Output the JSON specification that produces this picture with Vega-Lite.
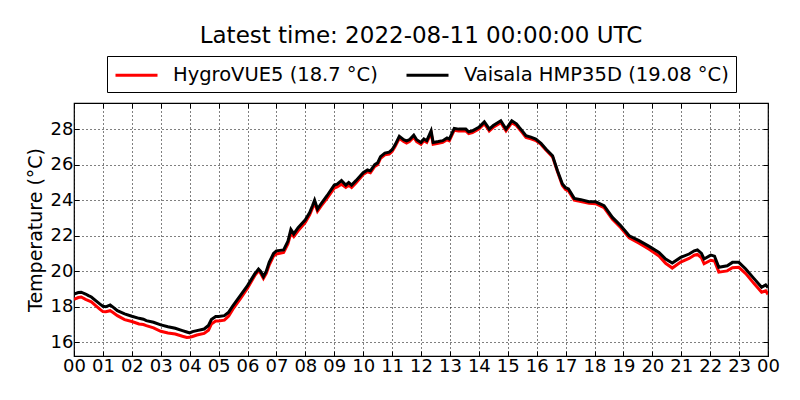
{
  "$schema": "https://vega.github.io/schema/vega-lite/v6.json",
  "width": 694,
  "height": 253,
  "padding": {"top": 24, "left": 26, "right": 16, "bottom": 5},
  "background": "white",
  "title": {
    "text": "Latest time: 2022-08-11 00:00:00 UTC",
    "font": "DejaVu Sans",
    "fontSize": 23,
    "fontWeight": "normal",
    "color": "black",
    "anchor": "middle",
    "frame": "group",
    "offset": 8
  },
  "config": {
    "view": {"stroke": "black", "strokeWidth": 1.2},
    "axis": {
      "labelFont": "DejaVu Sans",
      "labelFontSize": 18,
      "labelColor": "black",
      "titleFont": "DejaVu Sans",
      "titleFontSize": 19,
      "titleFontWeight": "normal",
      "titleColor": "black",
      "domain": false,
      "tickColor": "black",
      "tickSize": -5,
      "labelFlush": false,
      "gridColor": "black",
      "gridDash": [1, 3],
      "gridOpacity": 1,
      "gridWidth": 1
    }
  },
  "datasets": {
    "temps": [
      {"h": 0.0, "hygro": 18.42, "vaisala": 18.72},
      {"h": 0.15, "hygro": 18.52, "vaisala": 18.8},
      {"h": 0.25, "hygro": 18.55, "vaisala": 18.82},
      {"h": 0.4, "hygro": 18.42, "vaisala": 18.72},
      {"h": 0.5, "hygro": 18.35, "vaisala": 18.63},
      {"h": 0.6, "hygro": 18.28, "vaisala": 18.55},
      {"h": 0.75, "hygro": 18.07, "vaisala": 18.35},
      {"h": 0.9, "hygro": 17.85, "vaisala": 18.15},
      {"h": 1.0, "hygro": 17.73, "vaisala": 18.03},
      {"h": 1.1, "hygro": 17.72, "vaisala": 18.0},
      {"h": 1.25, "hygro": 17.78, "vaisala": 18.1},
      {"h": 1.35, "hygro": 17.68, "vaisala": 17.98},
      {"h": 1.5, "hygro": 17.5, "vaisala": 17.78},
      {"h": 1.75, "hygro": 17.28, "vaisala": 17.6},
      {"h": 2.0, "hygro": 17.17, "vaisala": 17.47},
      {"h": 2.25, "hygro": 17.03, "vaisala": 17.35},
      {"h": 2.4, "hygro": 17.0, "vaisala": 17.3},
      {"h": 2.5, "hygro": 16.94, "vaisala": 17.22},
      {"h": 2.75, "hygro": 16.81, "vaisala": 17.13},
      {"h": 3.0, "hygro": 16.62, "vaisala": 16.98},
      {"h": 3.25, "hygro": 16.53, "vaisala": 16.88},
      {"h": 3.5, "hygro": 16.47, "vaisala": 16.79},
      {"h": 3.75, "hygro": 16.34, "vaisala": 16.66},
      {"h": 3.9, "hygro": 16.27, "vaisala": 16.58},
      {"h": 4.0, "hygro": 16.28, "vaisala": 16.53},
      {"h": 4.1, "hygro": 16.33, "vaisala": 16.6},
      {"h": 4.25, "hygro": 16.41, "vaisala": 16.66},
      {"h": 4.5, "hygro": 16.5, "vaisala": 16.75},
      {"h": 4.65, "hygro": 16.68, "vaisala": 16.95},
      {"h": 4.75, "hygro": 17.03, "vaisala": 17.28},
      {"h": 4.9, "hygro": 17.2, "vaisala": 17.45},
      {"h": 5.0, "hygro": 17.2, "vaisala": 17.45},
      {"h": 5.2, "hygro": 17.25, "vaisala": 17.5},
      {"h": 5.35, "hygro": 17.48, "vaisala": 17.7},
      {"h": 5.5, "hygro": 17.88, "vaisala": 18.07},
      {"h": 5.75, "hygro": 18.44, "vaisala": 18.63},
      {"h": 6.0, "hygro": 19.04, "vaisala": 19.19},
      {"h": 6.25, "hygro": 19.75, "vaisala": 19.85},
      {"h": 6.38, "hygro": 20.02, "vaisala": 20.12},
      {"h": 6.45, "hygro": 19.9, "vaisala": 20.0},
      {"h": 6.55, "hygro": 19.6, "vaisala": 19.7},
      {"h": 6.65, "hygro": 19.88, "vaisala": 20.0},
      {"h": 6.75, "hygro": 20.35, "vaisala": 20.5},
      {"h": 6.9, "hygro": 20.85, "vaisala": 21.0},
      {"h": 7.0, "hygro": 20.97, "vaisala": 21.15},
      {"h": 7.25, "hygro": 21.06, "vaisala": 21.2},
      {"h": 7.4, "hygro": 21.55, "vaisala": 21.7},
      {"h": 7.5, "hygro": 22.15, "vaisala": 22.35},
      {"h": 7.6, "hygro": 21.95, "vaisala": 22.1},
      {"h": 7.75, "hygro": 22.28, "vaisala": 22.45},
      {"h": 8.0, "hygro": 22.75, "vaisala": 22.9},
      {"h": 8.15, "hygro": 23.17, "vaisala": 23.3},
      {"h": 8.25, "hygro": 23.57, "vaisala": 23.7},
      {"h": 8.32, "hygro": 23.85, "vaisala": 24.0},
      {"h": 8.42, "hygro": 23.38, "vaisala": 23.5},
      {"h": 8.55, "hygro": 23.68, "vaisala": 23.8},
      {"h": 8.75, "hygro": 24.1, "vaisala": 24.25},
      {"h": 9.0, "hygro": 24.68, "vaisala": 24.85},
      {"h": 9.1, "hygro": 24.75, "vaisala": 24.9},
      {"h": 9.25, "hygro": 24.9, "vaisala": 25.1},
      {"h": 9.4, "hygro": 24.72, "vaisala": 24.85},
      {"h": 9.5, "hygro": 24.85, "vaisala": 25.0},
      {"h": 9.6, "hygro": 24.72, "vaisala": 24.85},
      {"h": 9.75, "hygro": 24.97, "vaisala": 25.1},
      {"h": 10.0, "hygro": 25.45, "vaisala": 25.55},
      {"h": 10.15, "hygro": 25.6, "vaisala": 25.7},
      {"h": 10.25, "hygro": 25.55, "vaisala": 25.65},
      {"h": 10.4, "hygro": 25.9, "vaisala": 26.0},
      {"h": 10.5, "hygro": 26.0, "vaisala": 26.1},
      {"h": 10.6, "hygro": 26.35, "vaisala": 26.45},
      {"h": 10.75, "hygro": 26.55, "vaisala": 26.65},
      {"h": 10.9, "hygro": 26.6, "vaisala": 26.7},
      {"h": 11.0, "hygro": 26.74, "vaisala": 26.84},
      {"h": 11.1, "hygro": 27.0, "vaisala": 27.1},
      {"h": 11.25, "hygro": 27.48, "vaisala": 27.59},
      {"h": 11.4, "hygro": 27.3, "vaisala": 27.4},
      {"h": 11.5, "hygro": 27.22, "vaisala": 27.34},
      {"h": 11.6, "hygro": 27.3, "vaisala": 27.4},
      {"h": 11.75, "hygro": 27.55, "vaisala": 27.66},
      {"h": 11.85, "hygro": 27.3, "vaisala": 27.4},
      {"h": 12.0, "hygro": 27.15, "vaisala": 27.25},
      {"h": 12.1, "hygro": 27.35, "vaisala": 27.45},
      {"h": 12.2, "hygro": 27.25, "vaisala": 27.35},
      {"h": 12.35, "hygro": 27.78, "vaisala": 27.9},
      {"h": 12.42, "hygro": 27.15, "vaisala": 27.25},
      {"h": 12.6, "hygro": 27.2, "vaisala": 27.3},
      {"h": 12.75, "hygro": 27.25, "vaisala": 27.35},
      {"h": 12.9, "hygro": 27.4, "vaisala": 27.5},
      {"h": 12.98, "hygro": 27.34, "vaisala": 27.44},
      {"h": 13.15, "hygro": 27.94, "vaisala": 28.04},
      {"h": 13.3, "hygro": 27.9, "vaisala": 28.0},
      {"h": 13.55, "hygro": 27.9, "vaisala": 28.0},
      {"h": 13.65, "hygro": 27.75, "vaisala": 27.85},
      {"h": 13.78, "hygro": 27.8, "vaisala": 27.9},
      {"h": 14.0, "hygro": 28.0, "vaisala": 28.1},
      {"h": 14.19, "hygro": 28.3, "vaisala": 28.41},
      {"h": 14.3, "hygro": 28.05, "vaisala": 28.15},
      {"h": 14.36, "hygro": 27.9, "vaisala": 28.0},
      {"h": 14.5, "hygro": 28.1, "vaisala": 28.2},
      {"h": 14.76, "hygro": 28.36, "vaisala": 28.47},
      {"h": 14.94, "hygro": 27.9, "vaisala": 28.0},
      {"h": 15.14, "hygro": 28.36, "vaisala": 28.47},
      {"h": 15.3, "hygro": 28.2, "vaisala": 28.3},
      {"h": 15.4, "hygro": 28.0, "vaisala": 28.09},
      {"h": 15.5, "hygro": 27.8, "vaisala": 27.9},
      {"h": 15.63, "hygro": 27.53, "vaisala": 27.63},
      {"h": 15.8, "hygro": 27.45, "vaisala": 27.55},
      {"h": 15.97, "hygro": 27.36, "vaisala": 27.44},
      {"h": 16.15, "hygro": 27.14, "vaisala": 27.2},
      {"h": 16.32, "hygro": 26.82, "vaisala": 26.88},
      {"h": 16.55, "hygro": 26.44, "vaisala": 26.5},
      {"h": 16.72, "hygro": 25.6, "vaisala": 25.66},
      {"h": 16.89, "hygro": 24.82, "vaisala": 24.91},
      {"h": 17.0, "hygro": 24.6, "vaisala": 24.7},
      {"h": 17.1, "hygro": 24.52, "vaisala": 24.63},
      {"h": 17.3, "hygro": 24.0, "vaisala": 24.1},
      {"h": 17.53, "hygro": 23.93, "vaisala": 24.03},
      {"h": 17.81, "hygro": 23.82, "vaisala": 23.91},
      {"h": 18.04, "hygro": 23.8, "vaisala": 23.91},
      {"h": 18.33, "hygro": 23.58, "vaisala": 23.69},
      {"h": 18.62, "hygro": 22.93, "vaisala": 23.03},
      {"h": 18.91, "hygro": 22.45, "vaisala": 22.56},
      {"h": 19.2, "hygro": 21.88, "vaisala": 22.0},
      {"h": 19.54, "hygro": 21.58, "vaisala": 21.72},
      {"h": 19.89, "hygro": 21.24, "vaisala": 21.4},
      {"h": 20.23, "hygro": 20.86, "vaisala": 21.06},
      {"h": 20.46, "hygro": 20.45, "vaisala": 20.69},
      {"h": 20.69, "hygro": 20.18, "vaisala": 20.46},
      {"h": 20.98, "hygro": 20.52, "vaisala": 20.78},
      {"h": 21.27, "hygro": 20.72, "vaisala": 20.97},
      {"h": 21.45, "hygro": 20.9, "vaisala": 21.15},
      {"h": 21.56, "hygro": 20.95, "vaisala": 21.2},
      {"h": 21.7, "hygro": 20.75, "vaisala": 21.0},
      {"h": 21.79, "hygro": 20.42, "vaisala": 20.69},
      {"h": 22.02, "hygro": 20.62, "vaisala": 20.91},
      {"h": 22.15, "hygro": 20.58, "vaisala": 20.85},
      {"h": 22.3, "hygro": 19.95, "vaisala": 20.22},
      {"h": 22.59, "hygro": 20.02, "vaisala": 20.31},
      {"h": 22.77, "hygro": 20.2, "vaisala": 20.5},
      {"h": 22.99, "hygro": 20.22, "vaisala": 20.5},
      {"h": 23.23, "hygro": 19.87, "vaisala": 20.13},
      {"h": 23.51, "hygro": 19.32, "vaisala": 19.6},
      {"h": 23.78, "hygro": 18.82, "vaisala": 19.1},
      {"h": 23.92, "hygro": 18.9, "vaisala": 19.23},
      {"h": 24.0, "hygro": 18.7, "vaisala": 19.08}
    ]
  },
  "data": {"name": "temps"},
  "transform": [
    {"fold": ["hygro", "vaisala"], "as": ["sensor", "temp"]}
  ],
  "layer": [
    {
      "mark": {"type": "line", "strokeWidth": 3, "clip": true},
      "encoding": {
        "x": {
          "field": "h",
          "type": "quantitative",
          "scale": {"domain": [0, 24], "nice": false},
          "axis": {
            "title": null,
            "values": [0, 1, 2, 3, 4, 5, 6, 7, 8, 9, 10, 11, 12, 13, 14, 15, 16, 17, 18, 19, 20, 21, 22, 23, 24],
            "labelExpr": "(datum.value % 24 < 10 ? '0' : '') + (datum.value % 24)",
            "labelOverlap": false,
            "labelPadding": 6
          }
        },
        "y": {
          "field": "temp",
          "type": "quantitative",
          "scale": {"domain": [15.23, 29.47], "nice": false, "zero": false},
          "axis": {
            "title": "Temperature (°C)",
            "values": [16, 18, 20, 22, 24, 26, 28],
            "labelPadding": 6,
            "titlePadding": 5
          }
        },
        "color": {
          "field": "sensor",
          "type": "nominal",
          "scale": {
            "domain": ["hygro", "vaisala"],
            "range": ["#ff0000", "#000000"]
          },
          "legend": {
            "orient": "none",
            "legendX": 33,
            "legendY": -47,
            "direction": "horizontal",
            "title": null,
            "labelExpr": "datum.value == 'hygro' ? 'HygroVUE5 (18.7 °C)' : 'Vaisala HMP35D (19.08 °C)'",
            "labelFont": "DejaVu Sans",
            "labelFontSize": 19.5,
            "labelColor": "black",
            "labelLimit": 0,
            "labelOffset": 35,
            "symbolType": "M-1,0H3",
            "symbolSize": 441,
            "symbolStrokeWidth": 3,
            "columnPadding": 22,
            "padding": 7,
            "strokeColor": "black",
            "fillColor": "white",
            "cornerRadius": 0
          }
        }
      }
    },
    {
      "mark": {"type": "line", "opacity": 0},
      "encoding": {
        "x": {
          "field": "h",
          "type": "quantitative",
          "axis": {
            "orient": "top",
            "labels": false,
            "grid": false,
            "title": null,
            "values": [0, 1, 2, 3, 4, 5, 6, 7, 8, 9, 10, 11, 12, 13, 14, 15, 16, 17, 18, 19, 20, 21, 22, 23, 24]
          }
        },
        "y": {
          "field": "temp",
          "type": "quantitative",
          "axis": {
            "orient": "right",
            "labels": false,
            "grid": false,
            "title": null,
            "values": [16, 18, 20, 22, 24, 26, 28]
          }
        },
        "detail": {"field": "sensor"}
      }
    }
  ],
  "resolve": {"axis": {"x": "independent", "y": "independent"}}
}
